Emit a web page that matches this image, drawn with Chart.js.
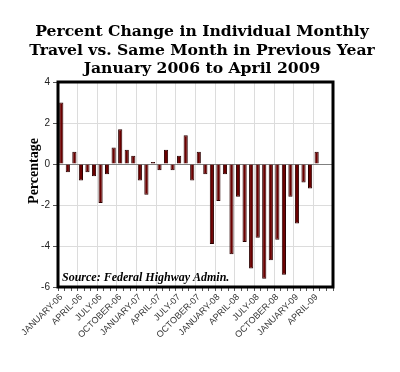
<!DOCTYPE html>
<html>
<head>
<meta charset="utf-8">
<script src="https://cdn.jsdelivr.net/npm/chart.js@4"></script>
<style>
html, body { margin: 0; padding: 0; background: #fff; }
#wrap { width: 400px; height: 372px; }
</style>
</head>
<body>
<div id="wrap"><canvas id="travelChart" width="400" height="372"></canvas></div>
<script>
const titleLines = ['Percent Change in Individual Monthly', 'Travel vs. Same Month in Previous Year', 'January 2006 to April 2009'];
const yAxisTitle = 'Percentage';
const sourceNote = 'Source: Federal Highway Admin.';

// Jan 2006 .. Apr 2009, plus two empty slots the original leaves on the right
const months = [
    'JANUARY-06', 'FEBRUARY-06', 'MARCH-06', 'APRIL-06', 'MAY-06', 'JUNE-06', 'JULY-06', 'AUGUST-06', 'SEPTEMBER-06', 'OCTOBER-06', 'NOVEMBER-06', 'DECEMBER-06',
    'JANUARY-07', 'FEBRUARY-07', 'MARCH-07', 'APRIL-07', 'MAY-07', 'JUNE-07', 'JULY-07', 'AUGUST-07', 'SEPTEMBER-07', 'OCTOBER-07', 'NOVEMBER-07', 'DECEMBER-07',
    'JANUARY-08', 'FEBRUARY-08', 'MARCH-08', 'APRIL-08', 'MAY-08', 'JUNE-08', 'JULY-08', 'AUGUST-08', 'SEPTEMBER-08', 'OCTOBER-08', 'NOVEMBER-08', 'DECEMBER-08',
    'JANUARY-09', 'FEBRUARY-09', 'MARCH-09', 'APRIL-09', 'MAY-09', 'JUNE-09'
];
const pctChange = [
    3.0, -0.4, 0.6, -0.8, -0.4, -0.6, -1.9, -0.5, 0.8, 1.7, 0.7, 0.4,
    -0.8, -1.5, 0.1, -0.3, 0.7, -0.3, 0.4, 1.4, -0.8, 0.6, -0.5, -3.9,
    -1.8, -0.5, -4.4, -1.6, -3.8, -5.1, -3.6, -5.6, -4.7, -3.7, -5.4, -1.6,
    -2.9, -0.9, -1.2, 0.6
];
const yMin = -6;
const yMax = 4;
const yStep = 2;

const framePlugin = {
    id: 'frameAndText',
    afterDraw(chart) {
        const { ctx, chartArea } = chart;
        ctx.save();
        ctx.strokeStyle = '#000';
        ctx.lineWidth = 3;
        ctx.strokeRect(chartArea.left, chartArea.top, chartArea.right - chartArea.left, chartArea.bottom - chartArea.top);

        ctx.fillStyle = '#000';
        ctx.textAlign = 'left';
        ctx.textBaseline = 'alphabetic';
        ctx.font = 'italic bold 12px "Liberation Serif"';
        ctx.fillText(sourceNote, chartArea.left + 4, chartArea.bottom - 6);

        // main title
        ctx.textAlign = 'center';
        ctx.font = 'bold 15.6px "DejaVu Serif"';
        titleLines.forEach((line, i) => {
            ctx.fillText(line, 202, 36 + i * 18.6);
        });

        // y axis title, sits a little above the middle in the original
        ctx.translate(38, 171);
        ctx.rotate(-Math.PI / 2);
        ctx.textBaseline = 'alphabetic';
        ctx.font = 'bold 14px "Liberation Serif"';
        ctx.fillText(yAxisTitle, 0, 0);
        ctx.restore();
    }
};

new Chart(document.getElementById('travelChart').getContext('2d'), {
    type: 'bar',
    data: {
        labels: months,
        datasets: [{
            label: 'Percent change',
            data: pctChange,
            backgroundColor: '#6b0000',
            borderColor: '#2b0000',
            borderWidth: 1,
            barPercentage: 0.64,
            categoryPercentage: 1
        }]
    },
    options: {
        responsive: false,
        animation: false,
        layout: { padding: { top: 82, right: 67, bottom: 0, left: 0 } },
        plugins: {
            legend: { display: false },
            title: { display: false },
            tooltip: { enabled: false }
        },
        scales: {
            x: {
                offset: true,
                grid: {
                    offset: true,
                    color: (c) => (c.index > 0 && c.index % 3 === 0) ? '#dcdcdc' : 'rgba(0,0,0,0)',
                    tickColor: '#555',
                    tickLength: 4
                },
                border: { display: false },
                ticks: {
                    autoSkip: false,
                    maxRotation: 45,
                    minRotation: 45,
                    color: '#333',
                    font: { family: '"Liberation Sans"', size: 9 },
                    padding: 1,
                    callback: function (val, i) {
                        return (i % 3 === 0 && i < pctChange.length) ? this.getLabelForValue(val) : '';
                    }
                },
                afterFit(scale) { scale.height = 85; }
            },
            y: {
                min: yMin,
                max: yMax,
                grid: {
                    color: (c) => c.tick.value === 0 ? '#808080' : '#dcdcdc',
                    tickColor: '#555',
                    tickLength: 5
                },
                border: { display: false },
                ticks: {
                    stepSize: yStep,
                    color: '#222',
                    font: { family: '"Liberation Sans"', size: 10 },
                    padding: 3
                },
                afterFit(scale) { scale.width = 58; }
            }
        }
    },
    plugins: [framePlugin]
});
</script>
</body>
</html>
